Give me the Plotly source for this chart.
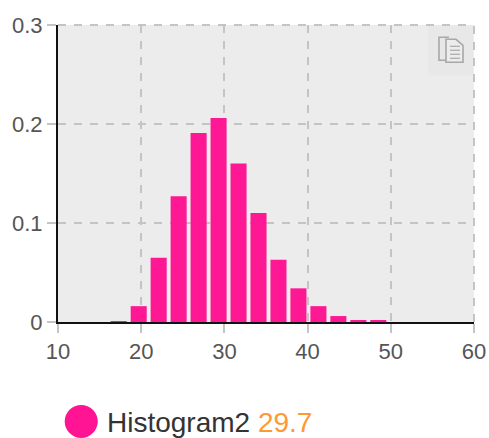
import plotly.graph_objects as go

bin_centers = [17.3, 19.7, 22.1, 24.5, 26.9, 29.3, 31.7, 34.1, 36.5, 38.9, 41.3, 43.7, 46.1, 48.5]
densities = [0.0003, 0.016, 0.065, 0.127, 0.191, 0.206, 0.16, 0.11, 0.063, 0.034, 0.016, 0.006, 0.002, 0.002]
x_ticks = [10, 20, 30, 40, 50, 60]
y_ticks = [0, 0.1, 0.2, 0.3]
y_tick_labels = ["0", "0.1", "0.2", "0.3"]
series_name = "Histogram2"
series_mean = "29.7"

PINK = "#ff1493"
GRID = "#c4c4c4"
FONT = "Liberation Sans"
W, H = 489, 438
L, R, T, B = 58.3, 15, 24.7, 116
PW, PH = W - L - R, H - T - B

def px(x):
    return (x - L) / PW

def py(y):
    return (H - B - y) / PH

fig = go.Figure()
fig.add_trace(go.Bar(x=bin_centers, y=densities, width=1.93, showlegend=False,
                     marker=dict(color=PINK, line=dict(width=0)), opacity=0.98))

axis_common = dict(
    showgrid=True, gridcolor=GRID, gridwidth=2, griddash="8px,8px",
    showline=True, linecolor="#111111", linewidth=2,
    ticks="outside", ticklen=9, tickcolor=GRID, tickwidth=2,
    zeroline=False, automargin=False,
    tickfont=dict(family=FONT, size=22, color="#555555"),
)

shapes = [
    # toolbox button behind the copy icon
    dict(type="rect", xref="paper", yref="paper", x0=px(428), x1=px(473), y0=py(75), y1=py(26),
         fillcolor="#e8e8e8", line=dict(width=0), layer="below"),
    # top and right edge gridlines
    dict(type="line", xref="paper", yref="paper", x0=0, x1=1, y0=1, y1=1,
         line=dict(color=GRID, width=2, dash="8px,8px")),
    dict(type="line", xref="paper", yref="paper", x0=1, x1=1, y0=0, y1=1,
         line=dict(color=GRID, width=2, dash="8px,8px")),
    # back sheet of the copy icon
    dict(type="path", xref="paper", yref="paper",
         path=f"M{px(449)},{py(60)} L{px(439)},{py(60)} L{px(439)},{py(37)} L{px(449)},{py(37)}",
         line=dict(color="#a8a8a8", width=1.6), fillcolor="rgba(0,0,0,0)"),
    # front sheet of the copy icon
    dict(type="path", xref="paper", yref="paper",
         path=f"M{px(446)},{py(62)} L{px(446)},{py(39)} L{px(456)},{py(39)} L{px(463)},{py(45)} L{px(463)},{py(62)} Z",
         line=dict(color="#a8a8a8", width=1.6), fillcolor="#ececec"),
]
for yy in (46, 50, 54, 58):
    shapes.append(dict(type="line", xref="paper", yref="paper", x0=px(450), x1=px(460), y0=py(yy), y1=py(yy),
                       line=dict(color="#a8a8a8", width=1.2)))
# legend dot
shapes.append(dict(type="circle", xref="paper", yref="paper", x0=px(65), x1=px(98), y0=py(438), y1=py(405),
                   fillcolor=PINK, line=dict(width=0)))

fig.update_layout(
    width=W, height=H, autosize=False,
    margin=dict(l=L, r=R, t=T, b=B, pad=0),
    paper_bgcolor="white", plot_bgcolor="#ececec",
    xaxis=dict(range=[10, 60], tickvals=x_ticks, **axis_common),
    yaxis=dict(range=[0, 0.3], tickvals=y_ticks, ticktext=y_tick_labels, **axis_common),
    shapes=shapes,
    annotations=[dict(
        xref="paper", yref="paper", x=px(105), y=py(423), xanchor="left", yanchor="middle",
        text=f"{series_name} <span style='color:#ff9933'>{series_mean}</span>",
        showarrow=False, font=dict(family=FONT, size=28, color="#333333"),
    )],
)
fig.write_html("out.html", config=dict(displayModeBar=False),
               post_script="document.body.style.margin='0';document.body.style.overflow='hidden';")
